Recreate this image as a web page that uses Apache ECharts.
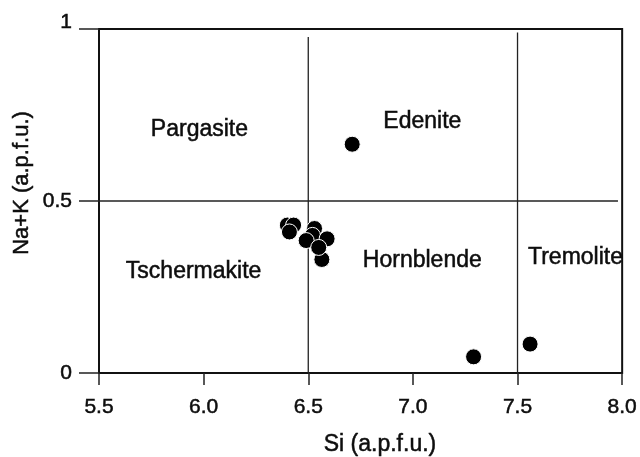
<!DOCTYPE html>
<html>
<head>
<meta charset="utf-8">
<script src="https://cdn.jsdelivr.net/npm/echarts@6/dist/echarts.min.js"></script>
<style>html,body{margin:0;padding:0;background:#fff}#c{width:640px;height:457px}</style>
</head>
<body>
<div id="c"></div>
<script>
// Data (Si vs Na+K, a.p.f.u.)
var siValues  = [6.40, 6.43, 6.41, 6.53, 6.52, 6.49, 6.59, 6.565, 6.55, 6.71, 7.29, 7.56];
var nakValues = [0.43, 0.43, 0.41, 0.42, 0.40, 0.385, 0.39, 0.33, 0.365, 0.665, 0.047, 0.084];
var xTicks = [5.5, 6.0, 6.5, 7.0, 7.5, 8.0];
var yTicks = [0, 0.5, 1];
var siBoundaries = [6.5, 7.5];
var nakBoundary = [0.5];
var fieldNames = ['Pargasite', 'Edenite', 'Tschermakite', 'Hornblende', 'Tremolite'];
var fieldSi  = [5.98, 7.045, 5.952, 7.045, 7.777];
var fieldNak = [0.706, 0.730, 0.294, 0.328, 0.334];

var FONT = '"Liberation Sans", Arial, Helvetica, sans-serif';
var INK = '#0d0d0d';
var points = siValues.map(function (s, i) { return [s, nakValues[i]]; });
var fieldData = fieldNames.map(function (n, i) { return { name: n, value: [fieldSi[i], fieldNak[i]] }; });
var boundaryTops = [0.977, 0.99];
var lineSeries = siBoundaries.map(function (s, i) {
  return {
    type: 'line', data: [[s, 0], [s, boundaryTops[i]]], symbol: 'none', silent: true,
    lineStyle: { color: '#222', width: 1.3 }, z: 1
  };
});
lineSeries.push({
  type: 'line', data: [[xTicks[0], nakBoundary[0]], [7.98, nakBoundary[0]]], symbol: 'none', silent: true,
  lineStyle: { color: '#222', width: 1.3 }, z: 1
});

var chart = echarts.init(document.getElementById('c'), null, { renderer: 'canvas' });
chart.setOption({
  animation: false,
  backgroundColor: '#fff',
  grid: { left: 99, right: 15, top: 29, bottom: 84, show: true, borderColor: '#111', borderWidth: 2, backgroundColor: 'transparent' },
  xAxis: {
    type: 'value', min: xTicks[0], max: xTicks[xTicks.length - 1], interval: 0.5,
    axisLine: { show: true, lineStyle: { color: '#111', width: 2 } },
    axisTick: { show: true, length: 12, lineStyle: { color: '#222', width: 1.5 } },
    splitLine: { show: false },
    axisLabel: { margin: 24, color: INK, fontSize: 21, fontFamily: FONT, textBorderColor: INK, textBorderWidth: 0.5,
      formatter: function (v) { return v.toFixed(1); } }
  },
  yAxis: {
    type: 'value', min: yTicks[0], max: yTicks[yTicks.length - 1], interval: 0.5,
    axisLine: { show: true, lineStyle: { color: '#111', width: 2 } },
    axisTick: { show: true, length: 20, lineStyle: { color: '#222', width: 1.5 } },
    splitLine: { show: false },
    axisLabel: { margin: 27, color: INK, fontSize: 21, fontFamily: FONT, textBorderColor: INK, textBorderWidth: 0.5,
      formatter: function (v) { return v === 1 ? '{top|1}' : String(v); },
      rich: { top: { fontSize: 21, fontFamily: FONT, color: INK, textBorderColor: INK, textBorderWidth: 0.5, padding: [0, 0, 14, 0] } } }
  },
  graphic: [
    { type: 'text', x: 380, y: 445, style: { text: 'Si (a.p.f.u.)', font: '23px ' + FONT, fill: INK, stroke: INK, lineWidth: 0.5, align: 'center', verticalAlign: 'middle' } },
    { type: 'text', x: 22, y: 183, rotation: Math.PI / 2, style: { text: 'Na+K (a.p.f.u.)', font: '22px ' + FONT, fill: INK, stroke: INK, lineWidth: 0.5, align: 'center', verticalAlign: 'middle' } }
  ],
  series: lineSeries.concat([
    {
      type: 'scatter', data: fieldData, symbolSize: 0, silent: true, z: 2,
      itemStyle: { opacity: 1 },
      label: { show: true, position: 'inside', formatter: '{b}', color: INK, fontSize: 23, fontFamily: FONT, textBorderColor: INK, textBorderWidth: 0.5 }
    },
    {
      type: 'scatter', data: points, symbol: 'circle', symbolSize: 16, z: 3,
      itemStyle: { color: '#000', borderColor: '#fff', borderWidth: 1, opacity: 1 }
    }
  ])
});
</script>
</body>
</html>
